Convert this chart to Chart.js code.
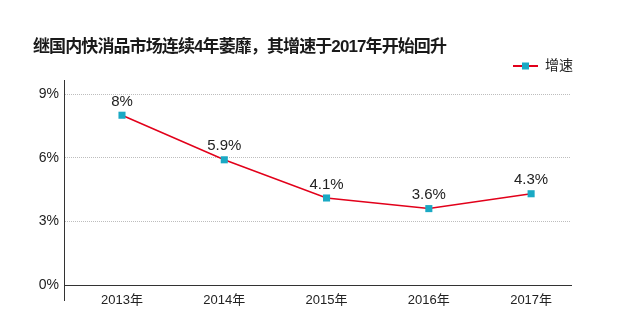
<!DOCTYPE html>
<html lang="zh">
<head>
  <meta charset="UTF-8" />
  <title>快消品市场增速</title>
  <style>
    body {
      margin: 0;
      background: #fff;
      font-family: "Liberation Sans", "Noto Sans CJK SC", sans-serif;
    }
    .wrap {
      position: relative;
      width: 632px;
      height: 331px;
    }
    .title {
      position: absolute;
      left: 33px;
      top: 32px;
      font-size: 17px;
      font-weight: bold;
      color: #1a1a1a;
      letter-spacing: -0.9px;
    }
    canvas {
      position: absolute;
      left: 0;
      top: 0;
    }
  </style>
</head>
<body>
  <div class="wrap">
    <canvas id="chart" width="632" height="331"></canvas>
    <div class="title">继国内快消品市场连续4年萎靡，其增速于2017年开始回升</div>
  </div>

  <script src="https://cdn.jsdelivr.net/npm/chart.js"></script>
  <script>
    const years = ["2013年", "2014年", "2015年", "2016年", "2017年"];
    const growth = [8, 5.9, 4.1, 3.6, 4.3];
    const yTicks = [0, 3, 6, 9];
    const seriesName = "增速";

    const FONT = '"Liberation Sans", "Noto Sans CJK SC", sans-serif';
    const lineColor = "#e2001a";
    const pointColor = "#1aa9c4";

    // data labels, legend, and the short y-axis stub below 0%
    const extras = {
      id: "extras",
      afterDatasetsDraw(chart) {
        const ctx = chart.ctx;
        const meta = chart.getDatasetMeta(0);
        ctx.save();
        ctx.font = "15px " + FONT;
        ctx.fillStyle = "#222";
        ctx.textAlign = "center";
        ctx.textBaseline = "bottom";
        meta.data.forEach((pt, i) => {
          ctx.fillText(growth[i] + "%", pt.x, pt.y - 6);
        });

        // y axis stub
        const area = chart.chartArea;
        ctx.strokeStyle = "#333";
        ctx.lineWidth = 1;
        ctx.beginPath();
        ctx.moveTo(area.left + 0.5, area.bottom);
        ctx.lineTo(area.left + 0.5, area.bottom + 16);
        ctx.stroke();

        // legend
        const ly = 66;
        ctx.strokeStyle = lineColor;
        ctx.lineWidth = 2;
        ctx.beginPath();
        ctx.moveTo(513, ly);
        ctx.lineTo(538, ly);
        ctx.stroke();
        ctx.fillStyle = pointColor;
        ctx.fillRect(522, ly - 3.5, 7, 7);
        ctx.fillStyle = "#222";
        ctx.font = "14px " + FONT;
        ctx.textAlign = "left";
        ctx.textBaseline = "middle";
        ctx.fillText(seriesName, 545, ly);
        ctx.restore();
      }
    };

    new Chart(document.getElementById("chart"), {
      type: "line",
      data: {
        datasets: [{
          label: seriesName,
          data: growth.map((v, i) => ({ x: i, y: v })),
          borderColor: lineColor,
          borderWidth: 1.5,
          pointStyle: "rect",
          pointRadius: 5,
          pointBorderWidth: 0,
          pointBackgroundColor: pointColor,
          tension: 0
        }]
      },
      options: {
        responsive: false,
        animation: false,
        layout: { padding: { top: 80, right: 61, bottom: 0, left: 0 } },
        plugins: {
          legend: { display: false },
          title: { display: false },
          tooltip: { enabled: false }
        },
        scales: {
          x: {
            type: "linear",
            min: -0.567,
            max: 4.39,
            afterBuildTicks: s => { s.ticks = years.map((_, i) => ({ value: i })); },
            afterFit: s => { s.height = 46; },
            grid: { display: false, drawTicks: false },
            border: { display: true, color: "#333", width: 1 },
            ticks: {
              padding: 8,
              color: "#222",
              font: { size: 13, family: FONT },
              callback: v => years[v]
            }
          },
          y: {
            min: 0,
            max: 9.66,
            afterBuildTicks: s => { s.ticks = yTicks.map(v => ({ value: v })); },
            afterFit: s => { s.width = 64; },
            grid: {
              drawTicks: false,
              color: ctx => ctx.tick && ctx.tick.value === 0 ? "rgba(0,0,0,0)" : "#bdbdbd",
              lineWidth: 1
            },
            border: { display: true, color: "#333", width: 1, dash: [1, 1] },
            ticks: {
              padding: 5,
              color: "#222",
              font: { size: 14, family: FONT },
              callback: v => v + "%"
            }
          }
        }
      },
      plugins: [extras]
    });
  </script>
</body>
</html>
